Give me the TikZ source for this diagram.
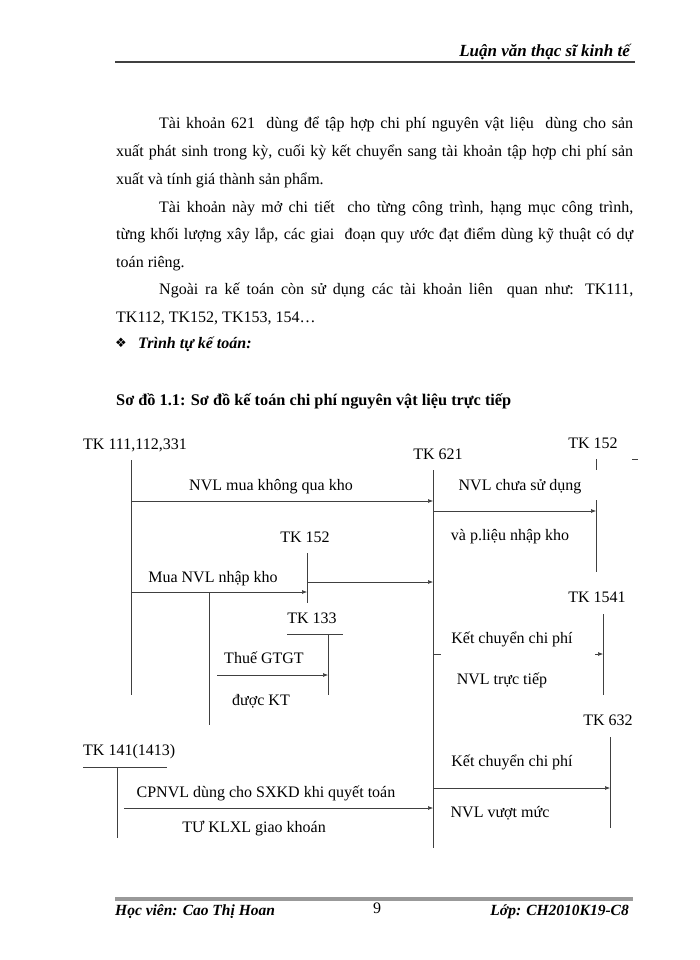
\documentclass[tikz,border=0pt]{standalone}
\usepackage{fontspec}
\setmainfont{Liberation Serif}
\newfontfamily\symfont{DejaVu Sans}
\usetikzlibrary{arrows.meta}

\tikzset{
  acct/.style={draw=black!75, line width=0.6pt},
  flow/.style={acct, -{Latex[length=5pt,width=4pt]}},
  lbl/.style={anchor=base, inner sep=0pt, font=\fontsize{16}{19}\selectfont},
  body/.style={anchor=base west, inner sep=0pt, font=\fontsize{16}{19}\selectfont},
  bi/.style={inner sep=0pt, font=\fontsize{16}{19}\selectfont\bfseries\itshape},
}
\newcommand{\fullline}[1]{\hbox to 517pt{#1}}
\newcommand{\indline}[1]{\hbox to 474pt{#1}}

\begin{document}
\begin{tikzpicture}[x=1pt,y=-1pt]
\useasboundingbox (0,0) rectangle (700,960);

% header
\node [bi, anchor=base east, font=\fontsize{17}{20}\selectfont\bfseries\itshape] (head) at (630,57) {Luận văn thạc sĩ kinh tế};
\draw [black!75, line width=2pt] (115,62) -- (635,62);

% text
\node [body] (p1) at (159,129) {\indline{Tài khoản 621 \ dùng để tập hợp chi phí nguyên vật liệu \ dùng cho sản}};
\node [body] (p2) at (116,157) {\fullline{xuất phát sinh trong kỳ, cuối kỳ kết chuyển sang tài khoản tập hợp chi phí sản}};
\node [body] (p3) at (116,184) {xuất và tính giá thành sản phẩm.};
\node [body] (p4) at (159,212) {\indline{Tài khoản này mở chi tiết \ cho từng công trình, hạng mục công trình,}};
\node [body] (p5) at (116,239) {\fullline{từng khối lượng xây lắp, các giai \ đoạn quy ước đạt điểm dùng kỹ thuật có dự}};
\node [body] (p6) at (116,267) {toán riêng.};
\node [body] (p7) at (159,294) {\indline{Ngoài ra kế toán còn sử dụng các tài khoản liên \ quan như: TK111,}};
\node [body] (p8) at (116,322) {TK112, TK152, TK153, 154…};
\node [anchor=base west, inner sep=0pt, font=\symfont\fontsize{13}{15}\selectfont] (star) at (115,347) {❖};
\node [bi, anchor=base west] (steps) at (138,348) {Trình tự kế toán:};

\node [body, font=\fontsize{16.3}{19}\selectfont\bfseries] (title) at (116,405) {Sơ đồ 1.1: Sơ đồ kế toán chi phí nguyên vật liệu trực tiếp};

% accounts
\coordinate (a111) at (131,460);
\coordinate (a621) at (433,470);
\coordinate (a152r) at (596,500);
\coordinate (a152m) at (307,553);
\coordinate (a133) at (328,634);
\coordinate (a1541) at (603,614);
\coordinate (a632) at (610,737);
\coordinate (a141) at (117,767);
\coordinate (split) at (209,592);

\node [lbl, anchor=base west] (t111) at (83,449) {TK 111,112,331};
\node [lbl] (t621) at (438,459) {TK 621};
\node [lbl] (t152r) at (593,448) {TK 152};
\node [lbl] (t152m) at (305,542) {TK 152};
\node [lbl] (t133) at (312,623) {TK 133};
\node [lbl] (t1541) at (597,602) {TK 1541};
\node [lbl] (t632) at (608,725) {TK 632};
\node [lbl, anchor=base west] (t141) at (83,755) {TK 141(1413)};

\draw [acct] (a111) -- (131,695);
\draw [acct] (a621) -- (433,848);
\draw [acct] (596,459) -- (596,470);
\draw [acct] (632,459) -- (638,459);
\draw [acct] (a152r) -- (596,572);
\draw [acct] (a152m) -- (307,603);
\draw [acct] (287,634) -- (343,634);
\draw [acct] (a133) -- (328,695);
\draw [acct] (a1541) -- (603,695);
\draw [acct] (a632) -- (610,828);
\draw [acct] (83,767) -- (167,767);
\draw [acct] (a141) -- (117,838);
\draw [acct] (split) -- (209,725);

% entries
\draw [flow] (a111 |- 0,501) -- (a621 |- 0,501);
\node [lbl] (e1) at (271,490) {NVL mua không qua kho};

\draw [flow] (a621 |- 0,511) -- (a152r |- 0,511);
\node [lbl] (e2a) at (520,490) {NVL chưa sử dụng};
\node [lbl] (e2b) at (510,540) {và p.liệu nhập kho};

\draw [flow] (a111 |- 0,592) -- (a152m |- 0,592);
\node [lbl] (e3) at (213,582) {Mua NVL nhập kho};
\draw [flow] (a152m |- 0,582) -- (a621 |- 0,582);

\draw [flow] (217,675) -- (a133 |- 0,675);
\node [lbl] (e4a) at (264,663) {Thuế GTGT};
\node [lbl] (e4b) at (261,705) {được KT};

\draw [acct] (a621 |- 0,654) -- (441,654);
\draw [flow] (595,654) -- (a1541 |- 0,654);
\node [lbl] (e5a) at (512,643) {Kết chuyển chi phí};
\node [lbl] (e5b) at (502,684) {NVL trực tiếp};

\draw [flow] (a621 |- 0,788) -- (a632 |- 0,788);
\node [lbl] (e6a) at (512,766) {Kết chuyển chi phí};
\node [lbl] (e6b) at (500,817) {NVL vượt mức};

\draw [flow] (124,808) -- (a621 |- 0,808);
\node [lbl] (e7a) at (266,797) {CPNVL dùng cho SXKD khi quyết toán};
\node [lbl] (e7b) at (254,832) {TƯ KLXL giao khoán};

% footer
\draw [black!40, line width=3.5pt] (115,899) -- (633,899);
\node [bi, anchor=base west, font=\fontsize{15.5}{18}\selectfont\bfseries\itshape] (student) at (115,915) {Học viên: Cao Thị Hoan};
\node [lbl] (page) at (377,913) {9};
\node [bi, anchor=base east, font=\fontsize{15.5}{18}\selectfont\bfseries\itshape] (class) at (629,915) {Lớp: CH2010K19-C8};

\end{tikzpicture}
\end{document}
